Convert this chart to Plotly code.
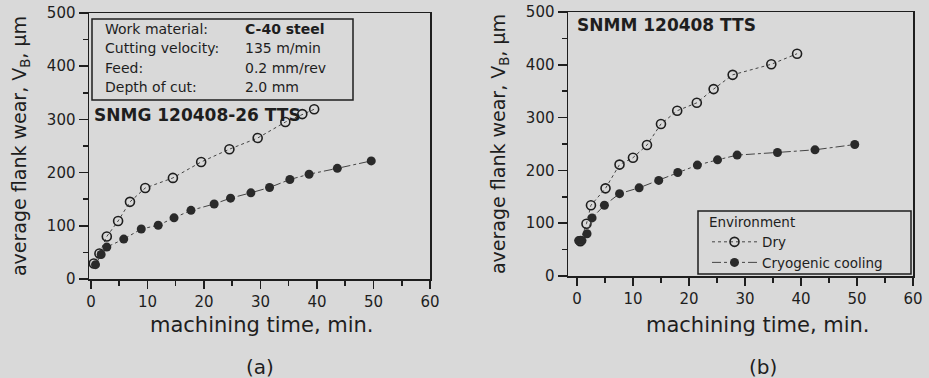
import plotly.graph_objects as go

# ---------------- data ----------------
time_a_dry = [0.5, 1.5, 2.8, 4.8, 6.9, 9.6, 14.5, 19.5, 24.5, 29.5, 34.4, 37.4, 39.5]
wear_a_dry = [29, 48, 80, 109, 145, 171, 190, 220, 244, 265, 295, 310, 319]
time_a_cryo = [0.8, 1.8, 2.8, 5.8, 8.9, 11.9, 14.7, 17.7, 21.8, 24.7, 28.3, 31.6, 35.2, 38.6, 43.6, 49.6]
wear_a_cryo = [27, 46, 60, 75, 94, 101, 115, 129, 141, 152, 162, 172, 187, 197, 208, 222]

time_b_dry = [0.6, 1.7, 2.5, 5.1, 7.6, 10.0, 12.5, 15.0, 17.9, 21.4, 24.4, 27.8, 34.7, 39.3]
wear_b_dry = [66, 99, 134, 166, 211, 224, 248, 288, 313, 328, 354, 381, 401, 421]
time_b_cryo = [0.3, 0.9, 1.8, 2.7, 4.9, 7.6, 11.1, 14.6, 18.0, 21.5, 25.1, 28.6, 35.8, 42.5, 49.6]
wear_b_cryo = [67, 67, 80, 110, 134, 156, 167, 181, 196, 210, 220, 229, 234, 239, 249]

x_ticks = [0, 10, 20, 30, 40, 50, 60]
y_ticks = [0, 100, 200, 300, 400, 500]

conditions_left = ["Work material:", "Cutting velocity:", "Feed:", "Depth of cut:"]
conditions_right = ["C-40 steel", "135 m/min", "0.2 mm/rev", "2.0 mm"]

# ---------------- styling ----------------
W, H = 929, 378
FONT = "DejaVu Sans"
INK = "#1e1e1e"
BG = "#d9d9d9"


def fx(px):
    return px / W


def fy(py):
    return 1 - py / H


fig = go.Figure()

dry_line = dict(color="#444444", width=1, dash="dot")
cryo_line = dict(color="#444444", width=1, dash="dashdot")
dry_marker = dict(symbol="circle-open", size=9, color=INK, line=dict(width=1.6, color=INK))
cryo_marker = dict(symbol="circle", size=9, color="#2a2a2a")

fig.add_trace(go.Scatter(x=time_a_dry, y=wear_a_dry, mode="lines+markers", line=dry_line,
                         marker=dry_marker, showlegend=False, xaxis="x", yaxis="y"))
fig.add_trace(go.Scatter(x=time_a_cryo, y=wear_a_cryo, mode="lines+markers", line=cryo_line,
                         marker=cryo_marker, showlegend=False, xaxis="x", yaxis="y"))
fig.add_trace(go.Scatter(x=time_b_dry, y=wear_b_dry, mode="lines+markers", line=dry_line,
                         marker=dry_marker, name="Dry", xaxis="x2", yaxis="y2"))
fig.add_trace(go.Scatter(x=time_b_cryo, y=wear_b_cryo, mode="lines+markers", line=cryo_line,
                         marker=cryo_marker, name="Cryogenic cooling", xaxis="x2", yaxis="y2"))

common_x = dict(tickmode="array", tickvals=x_ticks, ticks="outside", ticklen=8, tickwidth=1.5,
                tickcolor=INK, showline=True, linecolor=INK, linewidth=1.5, mirror=True,
                showgrid=False, zeroline=False, automargin=False,
                tickfont=dict(family=FONT, size=15, color=INK),
                minor=dict(dtick=5, tick0=0, ticks="outside", ticklen=5, tickwidth=1.5, tickcolor=INK))
common_y = dict(tickmode="array", tickvals=y_ticks, ticks="outside", ticklen=9, tickwidth=1.5,
                tickcolor=INK, showline=True, linecolor=INK, linewidth=1.5, mirror=True,
                showgrid=False, zeroline=False, automargin=False,
                tickfont=dict(family=FONT, size=15, color=INK),
                minor=dict(dtick=50, tick0=0, ticks="outside", ticklen=5, tickwidth=1.5, tickcolor=INK),
                range=[0, 500])

ytitle = "average flank wear, V<sub>B</sub>, \u00b5m"

fig.update_layout(
    width=W, height=H,
    margin=dict(l=0, r=0, t=0, b=0, autoexpand=False),
    paper_bgcolor=BG, plot_bgcolor=BG,
    font=dict(family=FONT, color=INK),
    hovermode=False,
    xaxis=dict(domain=[fx(89), fx(430)], range=[-0.35, 60], anchor="y", **common_x),
    yaxis=dict(domain=[fy(279), fy(13)], anchor="x",
               title=dict(text=ytitle, font=dict(family=FONT, size=19, color=INK)),
               **common_y),
    xaxis2=dict(domain=[fx(568), fx(913)], range=[-1.6, 60], anchor="y2", **common_x),
    yaxis2=dict(domain=[fy(276), fy(12)], anchor="x2",
                title=dict(text=ytitle, font=dict(family=FONT, size=19, color=INK)),
                **common_y),
    legend=dict(
        title=dict(text="Environment", font=dict(family=FONT, size=13.5, color=INK)),
        font=dict(family=FONT, size=13.5, color=INK),
        x=fx(707), xanchor="left", y=fy(209), yanchor="top",
        borderwidth=0, bgcolor="rgba(0,0,0,0)",
        tracegroupgap=0, itemwidth=45,
    ),
    showlegend=True,
)

# legend frame in panel (b)
fig.add_shape(type="rect", xref="paper", yref="paper",
              x0=fx(698), x1=fx(911), y0=fy(274), y1=fy(211),
              line=dict(color=INK, width=1.5), fillcolor="rgba(0,0,0,0)")

# conditions box in panel (a)
fig.add_shape(type="rect", xref="paper", yref="paper",
              x0=fx(92), x1=fx(353), y0=fy(100), y1=fy(19),
              line=dict(color=INK, width=1.5), fillcolor="rgba(0,0,0,0)")

row_y = [29, 48, 68, 87]
for txt, yy in zip(conditions_left, row_y):
    fig.add_annotation(text=txt, xref="paper", yref="paper", x=fx(103), y=fy(yy),
                       xanchor="left", yanchor="middle", showarrow=False,
                       font=dict(family=FONT, size=14, color=INK))
for i, (txt, yy) in enumerate(zip(conditions_right, row_y)):
    t = f"<b>{txt}</b>" if i == 0 else txt
    fig.add_annotation(text=t, xref="paper", yref="paper", x=fx(243), y=fy(yy),
                       xanchor="left", yanchor="middle", showarrow=False,
                       font=dict(family=FONT, size=14, color=INK))

fig.add_annotation(text="<b>SNMG 120408-26 TTS</b>", xref="paper", yref="paper",
                   x=fx(92), y=fy(115), xanchor="left", yanchor="middle", showarrow=False,
                   font=dict(family=FONT, size=17, color=INK))
fig.add_annotation(text="<b>SNMM 120408 TTS</b>", xref="paper", yref="paper",
                   x=fx(575), y=fy(25), xanchor="left", yanchor="middle", showarrow=False,
                   font=dict(family=FONT, size=17, color=INK))

# x-axis titles and panel labels
for cx in [262, 758]:
    fig.add_annotation(text="machining time, min.", xref="paper", yref="paper",
                       x=fx(cx), y=fy(325), xanchor="center", yanchor="middle", showarrow=False,
                       font=dict(family=FONT, size=21, color=INK))
for cx, lab in [(260, "(a)"), (763, "(b)")]:
    fig.add_annotation(text=lab, xref="paper", yref="paper",
                       x=fx(cx), y=fy(367), xanchor="center", yanchor="middle", showarrow=False,
                       font=dict(family=FONT, size=20, color=INK))

page_js = ("document.body.style.margin='0';document.body.style.padding='0';"
           "document.body.style.overflow='hidden';document.body.style.background='" + BG + "';")

fig.write_html("out.html", post_script=page_js, config={"displayModeBar": False, "staticPlot": True})
